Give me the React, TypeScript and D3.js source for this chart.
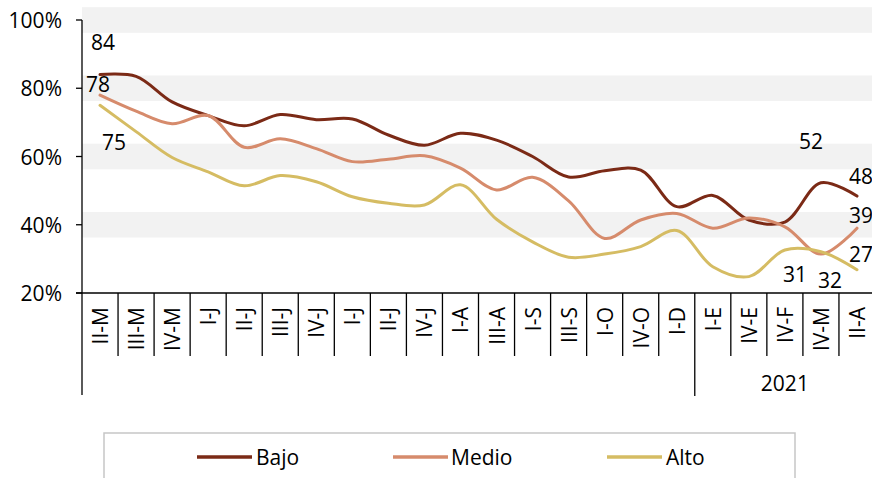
import * as d3 from "d3";
import React from "react";

const categories = ["II-M", "III-M", "IV-M", "I-J", "II-J", "III-J", "IV-J", "I-J", "II-J", "IV-J", "I-A", "III-A", "I-S", "III-S", "I-O", "IV-O", "I-D", "I-E", "IV-E", "IV-F", "IV-M", "II-A"];
const bajo = [84, 83.5, 76, 72, 69, 72.3, 70.8, 71, 66.3, 63.3, 66.8, 64.8, 60, 54, 55.8, 56, 45.3, 48.6, 41.4, 40.8, 52.3, 48.4];
const medio = [78, 73.3, 69.6, 72, 62.7, 65.2, 62.3, 58.5, 59.2, 60.2, 56.6, 50.2, 53.9, 47, 36, 41.4, 43.3, 39, 42, 39.4, 31.4, 39];
const alto = [75, 67.3, 59.7, 55.5, 51.4, 54.4, 52.6, 48.2, 46.3, 45.8, 51.7, 41.6, 35, 30.5, 31.4, 33.6, 38.3, 27.7, 24.8, 32.6, 32.1, 26.8];
const yTicks = [20, 40, 60, 80, 100];
const bandCenters = [40, 60, 80, 100];
const yearLabel = "2021";
const yearStart = 17;

const series = [
	{ name: "Bajo", values: bajo, color: "#7b2a16" },
	{ name: "Medio", values: medio, color: "#d68b6c" },
	{ name: "Alto", values: alto, color: "#d5bc63" },
];

// label: series index, point index, text, offset
const labels = [
	{ s: 0, i: 0, text: "84", dx: 3, dy: -33 },
	{ s: 1, i: 0, text: "78", dx: -2, dy: -11 },
	{ s: 2, i: 0, text: "75", dx: 14, dy: 37 },
	{ s: 0, i: 20, text: "52", dx: -10, dy: -42 },
	{ s: 0, i: 21, text: "48", dx: 4, dy: -20 },
	{ s: 1, i: 21, text: "39", dx: 4, dy: -13 },
	{ s: 2, i: 21, text: "27", dx: 4, dy: -16 },
	{ s: 1, i: 20, text: "31", dx: -26, dy: 20 },
	{ s: 2, i: 20, text: "32", dx: 9, dy: 28 },
];

const font = "'Open Sans', 'Noto Sans', sans-serif";
const fs = 21;

const App = () => {
	const W = 872, H = 478;
	const left = 82, right = 875, top = 20, bottom = 293;

	const x = d3
		.scaleBand<number>()
		.domain(categories.map((_, i) => i))
		.range([left, right])
		.padding(0);
	const y = d3.scaleLinear().domain([20, 100]).range([bottom, top]);
	const bw = x.bandwidth();
	const cx = (i: number) => x(i)! + bw / 2;

	const line = d3
		.line<number>()
		.x((_, i) => cx(i))
		.y((d) => y(d))
		.curve(d3.curveCatmullRom.alpha(0.5));

	const legendItems = [
		{ x1: 197, tx: 256 },
		{ x1: 393, tx: 451 },
		{ x1: 607, tx: 666 },
	];

	return (
		<div style={{ position: "absolute", left: 0, top: 0 }}>
			<svg width={W} height={H} style={{ display: "block", fontFamily: font }}>
				<rect width={W} height={H} fill="#fff" />
				{bandCenters.map((b) => (
					<rect
						key={b}
						x={left}
						width={W - left}
						y={y(b + 3.75)}
						height={y(b - 3.75) - y(b + 3.75)}
						fill="#f2f2f2"
					/>
				))}

				{series.map((s) => (
					<path
						key={s.name}
						d={line(s.values)!}
						fill="none"
						stroke={s.color}
						strokeWidth={3}
						strokeLinecap="round"
					/>
				))}

				{/* y axis */}
				<line x1={left} x2={left} y1={y(100)} y2={395} stroke="#000" strokeWidth={1.3} />
				{yTicks.map((t) => (
					<g key={t}>
						<line x1={left - 6} x2={left} y1={y(t)} y2={y(t)} stroke="#000" strokeWidth={1.3} />
						<text
							x={62}
							y={y(t)}
							textAnchor="end"
							dominantBaseline="central"
							fontSize={fs}
							fill="#000"
						>
							{t}%
						</text>
					</g>
				))}

				{/* x axis */}
				<line x1={left - 6} x2={W} y1={bottom} y2={bottom} stroke="#000" strokeWidth={1.3} />
				{categories.map((c, i) => (
					<g key={i}>
						{i > 0 && (
							<line
								x1={x(i)}
								x2={x(i)}
								y1={bottom}
								y2={i === yearStart ? 396 : 356}
								stroke="#000"
								strokeWidth={1.3}
							/>
						)}
						<text
							transform={`translate(${cx(i)},${bottom + 14}) rotate(-90)`}
							textAnchor="end"
							dominantBaseline="central"
							fontSize={fs}
							fill="#000"
						>
							{c}
						</text>
					</g>
				))}
				<text
					x={(x(yearStart)! + right) / 2}
					y={391}
					textAnchor="middle"
					fontSize={fs}
					fill="#000"
				>
					{yearLabel}
				</text>

				{labels.map((l, k) => (
					<text
						key={k}
						x={cx(l.i) + l.dx}
						y={y(series[l.s].values[l.i]) + l.dy}
						textAnchor="middle"
						dominantBaseline="central"
						fontSize={fs}
						fill="#000"
					>
						{l.text}
					</text>
				))}

				{/* legend */}
				<rect x={104} y={433} width={691} height={80} fill="none" stroke="#c6c6c6" strokeWidth={1.5} />
				{series.map((s, k) => (
					<g key={s.name}>
						<line
							x1={legendItems[k].x1}
							x2={legendItems[k].x1 + 55}
							y1={457}
							y2={457}
							stroke={s.color}
							strokeWidth={3.5}
						/>
						<text
							x={legendItems[k].tx}
							y={457}
							dominantBaseline="central"
							fontSize={fs}
							fill="#000"
						>
							{s.name}
						</text>
					</g>
				))}
			</svg>
		</div>
	);
};

export default App;
